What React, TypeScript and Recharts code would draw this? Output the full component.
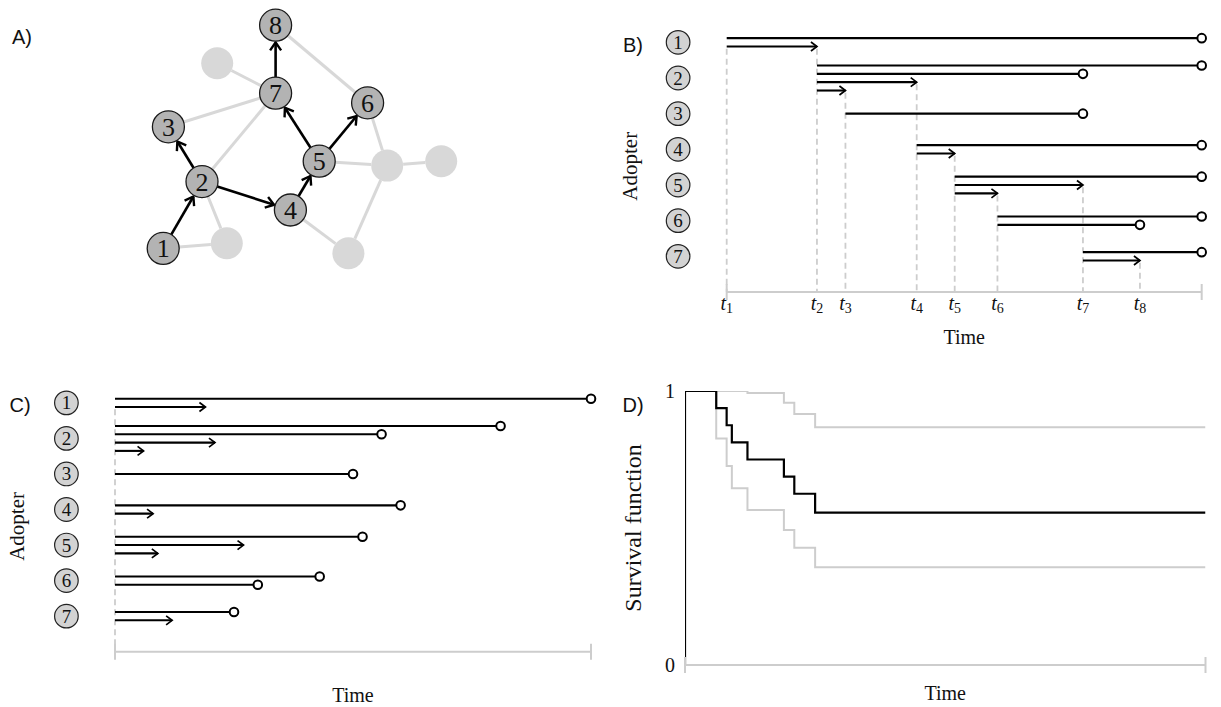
import React from "react";
import {
  ComposedChart,
  ScatterChart,
  Scatter,
  Line,
  XAxis,
  YAxis,
  ReferenceLine,
} from "recharts";

const SERIF = '"Liberation Serif", "Times New Roman", serif';
const SANS = '"Liberation Sans", Arial, sans-serif';
const INK = "#111";
const LIGHT = "#cdcdcd";
const TIE = "#d8d8d8";

// A) network: layout coordinates of adopters and other nodes
const ADOPTERS = [
  { id: "1", x: 4.08, y: 6.21 },
  { id: "2", x: 5.05, y: 4.54 },
  { id: "3", x: 4.21, y: 3.17 },
  { id: "4", x: 7.26, y: 5.25 },
  { id: "5", x: 7.98, y: 4.03 },
  { id: "6", x: 9.19, y: 2.57 },
  { id: "7", x: 6.89, y: 2.33 },
  { id: "8", x: 6.89, y: 0.63 },
];
const OTHERS = [
  { id: "a", x: 5.43, y: 1.58 },
  { id: "b", x: 9.68, y: 4.14 },
  { id: "c", x: 11.03, y: 4.03 },
  { id: "d", x: 5.67, y: 6.08 },
  { id: "e", x: 8.71, y: 6.33 },
];
const SPREAD = [["1", "2"], ["2", "3"], ["2", "4"], ["4", "5"], ["5", "7"], ["5", "6"], ["7", "8"]];
const TIES = [
  ["8", "6"], ["a", "7"], ["3", "7"], ["2", "7"], ["6", "b"], ["5", "b"],
  ["b", "c"], ["b", "e"], ["4", "e"], ["2", "d"], ["1", "d"],
];

// B) adoption times and exposures (end = 100)
const EVENT_TIMES = [0, 19, 25, 40, 48, 57, 75, 87];
const END_TIME = 100;
const ROWS = [1, 2, 3, 4, 5, 6, 7];
const EXPOSURES = [
  { row: 1, from: 0, to: 100, kind: "censored" },
  { row: 1, from: 0, to: 19, kind: "adopted" },
  { row: 2, from: 19, to: 100, kind: "censored" },
  { row: 2, from: 19, to: 75, kind: "censored" },
  { row: 2, from: 19, to: 40, kind: "adopted" },
  { row: 2, from: 19, to: 25, kind: "adopted" },
  { row: 3, from: 25, to: 75, kind: "censored" },
  { row: 4, from: 40, to: 100, kind: "censored" },
  { row: 4, from: 40, to: 48, kind: "adopted" },
  { row: 5, from: 48, to: 100, kind: "censored" },
  { row: 5, from: 48, to: 75, kind: "adopted" },
  { row: 5, from: 48, to: 57, kind: "adopted" },
  { row: 6, from: 57, to: 100, kind: "censored" },
  { row: 6, from: 57, to: 87, kind: "censored" },
  { row: 7, from: 75, to: 100, kind: "censored" },
  { row: 7, from: 75, to: 87, kind: "adopted" },
];

// D) Kaplan-Meier estimate with confidence band
const KM_TIME = [0, 6, 8, 9, 12, 19, 21, 25, 100];
const KM_EST = [1, 0.9375, 0.875, 0.8125, 0.75, 0.6875, 0.625, 0.556, 0.556];
const KM_UPPER = [1, 1, 1, 1, 0.993, 0.957, 0.916, 0.868, 0.868];
const KM_LOWER = [1, 0.827, 0.726, 0.645, 0.566, 0.493, 0.428, 0.357, 0.357];

const LANE = 0.234;

function layoutRows(segs: any[]) {
  const out: any[] = [];
  ROWS.forEach((r) => {
    const rs = segs.filter((s) => s.row === r);
    rs.forEach((s, i) => out.push({ ...s, y: r + (i - (rs.length - 1) / 2) * LANE }));
  });
  return out;
}

const SEGS_B = layoutRows(EXPOSURES);
const SEGS_C = layoutRows(EXPOSURES.map((s) => ({ ...s, from: 0, to: s.to - s.from })));

const DASH_B = EVENT_TIMES.map((t, k) => {
  const seg =
    k === 0
      ? SEGS_B.find((s) => s.row === 1 && s.kind === "adopted")
      : SEGS_B.find((s) => s.kind === "adopted" && s.to === t);
  return { t, y: seg.y };
});
const DASH_C = [{ t: 0, y: SEGS_C.find((s) => s.row === 1 && s.kind === "adopted").y }];

function trim(x1: number, y1: number, x2: number, y2: number, r1: number, r2: number) {
  const dx = x2 - x1;
  const dy = y2 - y1;
  const L = Math.hypot(dx, dy) || 1;
  const ux = dx / L;
  const uy = dy / L;
  return { ax: x1 + ux * r1, ay: y1 + uy * r1, bx: x2 - ux * r2, by: y2 - uy * r2, ux, uy };
}

function chevron(bx: number, by: number, ux: number, uy: number, len: number, half: number) {
  return `${bx - ux * len - uy * half},${by - uy * len + ux * half} ${bx},${by} ${bx - ux * len + uy * half},${by - uy * len - ux * half}`;
}

const NODE_R = 16;

const tieShape = (p: any) => {
  const s = trim(p.x1, p.y1, p.x2, p.y2, NODE_R, NODE_R);
  return <line x1={s.ax} y1={s.ay} x2={s.bx} y2={s.by} stroke={TIE} strokeWidth={3} />;
};

const spreadShape = (p: any) => {
  const s = trim(p.x1, p.y1, p.x2, p.y2, NODE_R, NODE_R + 1.2);
  return (
    <g>
      <line x1={s.ax} y1={s.ay} x2={s.bx} y2={s.by} stroke="#000" strokeWidth={2.6} />
      <polyline points={chevron(s.bx, s.by, s.ux, s.uy, 8, 5.5)} fill="none" stroke="#000" strokeWidth={2.4} />
    </g>
  );
};

const adopterNode = (p: any) => (
  <g>
    <circle cx={p.cx} cy={p.cy} r={NODE_R} fill="#b3b3b3" stroke="#1a1a1a" strokeWidth={1.3} />
    <text x={p.cx} y={p.cy + 9} textAnchor="middle" fontFamily={SERIF} fontSize={26} fill={INK}>
      {p.payload.id}
    </text>
  </g>
);

const otherNode = (p: any) => <circle cx={p.cx} cy={p.cy} r={NODE_R} fill={TIE} />;

const byId = (id: string) => ADOPTERS.find((n) => n.id === id) || OTHERS.find((n) => n.id === id);

function NetworkPanel() {
  return (
    <ScatterChart width={480} height={300} margin={{ top: 0, right: 0, bottom: 0, left: 0 }}>
      <XAxis type="number" dataKey="x" domain={[0, 12]} hide allowDataOverflow />
      <YAxis type="number" dataKey="y" domain={[0, 7.5]} reversed hide allowDataOverflow />
      {TIES.map(([a, b]) => {
        const na = byId(a);
        const nb = byId(b);
        return (
          <ReferenceLine
            key={`t${a}${b}`}
            ifOverflow="visible"
            segment={[{ x: na.x, y: na.y }, { x: nb.x, y: nb.y }]}
            shape={tieShape}
          />
        );
      })}
      {SPREAD.map(([a, b]) => {
        const na = byId(a);
        const nb = byId(b);
        return (
          <ReferenceLine
            key={`s${a}${b}`}
            ifOverflow="visible"
            segment={[{ x: na.x, y: na.y }, { x: nb.x, y: nb.y }]}
            shape={spreadShape}
          />
        );
      })}
      <Scatter data={OTHERS} shape={otherNode} isAnimationActive={false} />
      <Scatter data={ADOPTERS} shape={adopterNode} isAnimationActive={false} />
    </ScatterChart>
  );
}

const exposureShape = (kind: string) => (p: any) => {
  const { x1, y1, x2, y2 } = p;
  if (kind === "censored") {
    return (
      <g>
        <line x1={x1} y1={y1} x2={x2 - 4.5} y2={y2} stroke="#000" strokeWidth={2.1} />
        <circle cx={x2} cy={y2} r={4.3} fill="#fff" stroke="#000" strokeWidth={2} />
      </g>
    );
  }
  return (
    <g>
      <line x1={x1} y1={y1} x2={x2} y2={y2} stroke="#000" strokeWidth={2.1} />
      <polyline points={chevron(x2, y2, 1, 0, 6, 4.5)} fill="none" stroke="#000" strokeWidth={1.7} />
    </g>
  );
};

const capShape = (p: any) => {
  const bottom = Math.max(p.y1, p.y2);
  return <line x1={p.x1} y1={bottom - 8} x2={p.x1} y2={bottom + 8} stroke={LIGHT} strokeWidth={2} />;
};

const NodeTick = (p: any) => {
  const cx = p.x - 48.6;
  return (
    <g>
      <circle cx={cx} cy={p.y} r={11.8} fill="#d3d3d3" stroke="#222" strokeWidth={1.2} />
      <text x={cx} y={p.y + 6.5} textAnchor="middle" fontFamily={SERIF} fontSize={19} fill={INK}>
        {p.payload.value}
      </text>
    </g>
  );
};

const TimeTick = (p: any) => {
  const k = EVENT_TIMES.indexOf(p.payload.value) + 1;
  return (
    <text x={p.x} y={p.y + 18} textAnchor="middle" fontFamily={SERIF} fontSize={20} fill={INK}>
      <tspan fontStyle="italic">t</tspan>
      <tspan fontSize={14} dy={3}>{k}</tspan>
    </text>
  );
};

const XTitle = ({ viewBox, text, dy }: any) => (
  <text
    x={viewBox.x + viewBox.width / 2}
    y={viewBox.y + dy}
    textAnchor="middle"
    dominantBaseline="central"
    fontFamily={SERIF}
    fontSize={20}
    fill={INK}
  >
    {text}
  </text>
);

const YTitle = ({ viewBox, text, dx, dy, size }: any) => {
  const x = viewBox.x + dx;
  const y = viewBox.y + viewBox.height / 2 + dy;
  return (
    <text
      x={x}
      y={y}
      transform={`rotate(-90 ${x} ${y})`}
      textAnchor="middle"
      dominantBaseline="central"
      fontFamily={SERIF}
      fontSize={size}
      fill={INK}
    >
      {text}
    </text>
  );
};

function Timeline({ segs, dashes, width, height, margin, yWidth, xHeight, ticks, timeDy, adopterDx }: any) {
  return (
    <ComposedChart width={width} height={height} margin={margin}>
      <XAxis
        type="number"
        dataKey="x"
        domain={[0, END_TIME]}
        allowDataOverflow
        ticks={ticks ? EVENT_TIMES : []}
        interval={0}
        tick={ticks ? TimeTick : false}
        tickLine={false}
        tickSize={0}
        tickMargin={0}
        axisLine={{ stroke: LIGHT, strokeWidth: 2 }}
        height={xHeight}
        label={(p: any) => <XTitle {...p} text="Time" dy={timeDy} />}
      />
      <YAxis
        type="number"
        domain={[0.5, 8]}
        reversed
        allowDataOverflow
        ticks={ROWS}
        interval={0}
        tick={NodeTick}
        tickLine={false}
        tickSize={0}
        tickMargin={0}
        axisLine={false}
        width={yWidth}
        label={(p: any) => <YTitle {...p} text="Adopter" dx={adopterDx} dy={8} size={21} />}
      />
      {dashes.map((d: any) => (
        <ReferenceLine
          key={`d${d.t}`}
          ifOverflow="visible"
          segment={[{ x: d.t, y: d.y + 0.06 }, { x: d.t, y: 8 }]}
          stroke={LIGHT}
          strokeWidth={1.8}
          strokeDasharray="6 4"
        />
      ))}
      <ReferenceLine x={0} ifOverflow="visible" shape={capShape} />
      <ReferenceLine x={END_TIME} ifOverflow="visible" shape={capShape} />
      {segs.map((s: any, i: number) => (
        <ReferenceLine
          key={`s${i}`}
          ifOverflow="visible"
          segment={[{ x: s.from, y: s.y }, { x: s.to, y: s.y }]}
          shape={exposureShape(s.kind)}
        />
      ))}
    </ComposedChart>
  );
}

const kmSeries = (vals: number[]) => KM_TIME.map((t, i) => ({ t, v: vals[i] }));
const KM_MAIN = [{ t: 0, v: 0 }, ...kmSeries(KM_EST)];

function SurvivalPanel() {
  return (
    <ComposedChart width={611} height={337} margin={{ top: 21, right: 15.5, bottom: 0, left: 0 }}>
      <XAxis
        type="number"
        dataKey="t"
        domain={[0, 100]}
        allowDataOverflow
        tick={false}
        tickLine={false}
        axisLine={{ stroke: LIGHT, strokeWidth: 2 }}
        height={42}
        label={(p: any) => <XTitle {...p} text="Time" dy={27.7} />}
      />
      <YAxis
        type="number"
        domain={[0, 1]}
        allowDataOverflow
        ticks={[0, 1]}
        interval={0}
        tick={{ fontFamily: SERIF, fontSize: 20, fill: INK }}
        tickLine={false}
        tickSize={0}
        tickMargin={10}
        axisLine={false}
        width={75}
        label={(p: any) => <YTitle {...p} text="Survival function" dx={23.3} dy={0} size={24} />}
      />
      <Line data={kmSeries(KM_UPPER)} dataKey="v" type="stepAfter" stroke={LIGHT} strokeWidth={2} dot={false} isAnimationActive={false} />
      <Line data={kmSeries(KM_LOWER)} dataKey="v" type="stepAfter" stroke={LIGHT} strokeWidth={2} dot={false} isAnimationActive={false} />
      <Line data={KM_MAIN} dataKey="v" type="stepAfter" stroke="#000" strokeWidth={2.2} dot={false} isAnimationActive={false} />
      <ReferenceLine x={0} ifOverflow="visible" shape={capShape} />
      <ReferenceLine x={100} ifOverflow="visible" shape={capShape} />
    </ComposedChart>
  );
}

const PanelTag = ({ text, x, y }: any) => (
  <div
    style={{
      position: "absolute",
      left: x,
      top: y,
      transform: "translate(-50%, -50%)",
      fontFamily: SANS,
      fontSize: 20,
      color: INK,
      lineHeight: 1,
    }}
  >
    {text}
  </div>
);

export default function App() {
  return (
    <div style={{ position: "absolute", left: 0, top: 0, width: 1221, height: 707, background: "#fff", overflow: "hidden" }}>
      <div style={{ position: "absolute", left: 0, top: 0 }}>
        <NetworkPanel />
      </div>
      <div style={{ position: "absolute", left: 600, top: 0 }}>
        <Timeline
          segs={SEGS_B}
          dashes={DASH_B}
          width={621}
          height={350}
          margin={{ top: 24.5, right: 19.3, bottom: 0, left: 0 }}
          yWidth={126.7}
          xHeight={58}
          ticks
          timeDy={44.7}
          adopterDx={30}
        />
      </div>
      <div style={{ position: "absolute", left: 0, top: 370 }}>
        <Timeline
          segs={SEGS_C}
          dashes={DASH_C}
          width={620}
          height={337}
          margin={{ top: 15.1, right: 29, bottom: 0, left: 0 }}
          yWidth={115}
          xHeight={55.3}
          ticks={false}
          timeDy={43.3}
          adopterDx={16.7}
        />
      </div>
      <div style={{ position: "absolute", left: 610, top: 370 }}>
        <SurvivalPanel />
      </div>
      <PanelTag text="A)" x={22} y={37} />
      <PanelTag text="B)" x={633} y={45} />
      <PanelTag text="C)" x={20} y={405} />
      <PanelTag text="D)" x={633} y={405} />
    </div>
  );
}
